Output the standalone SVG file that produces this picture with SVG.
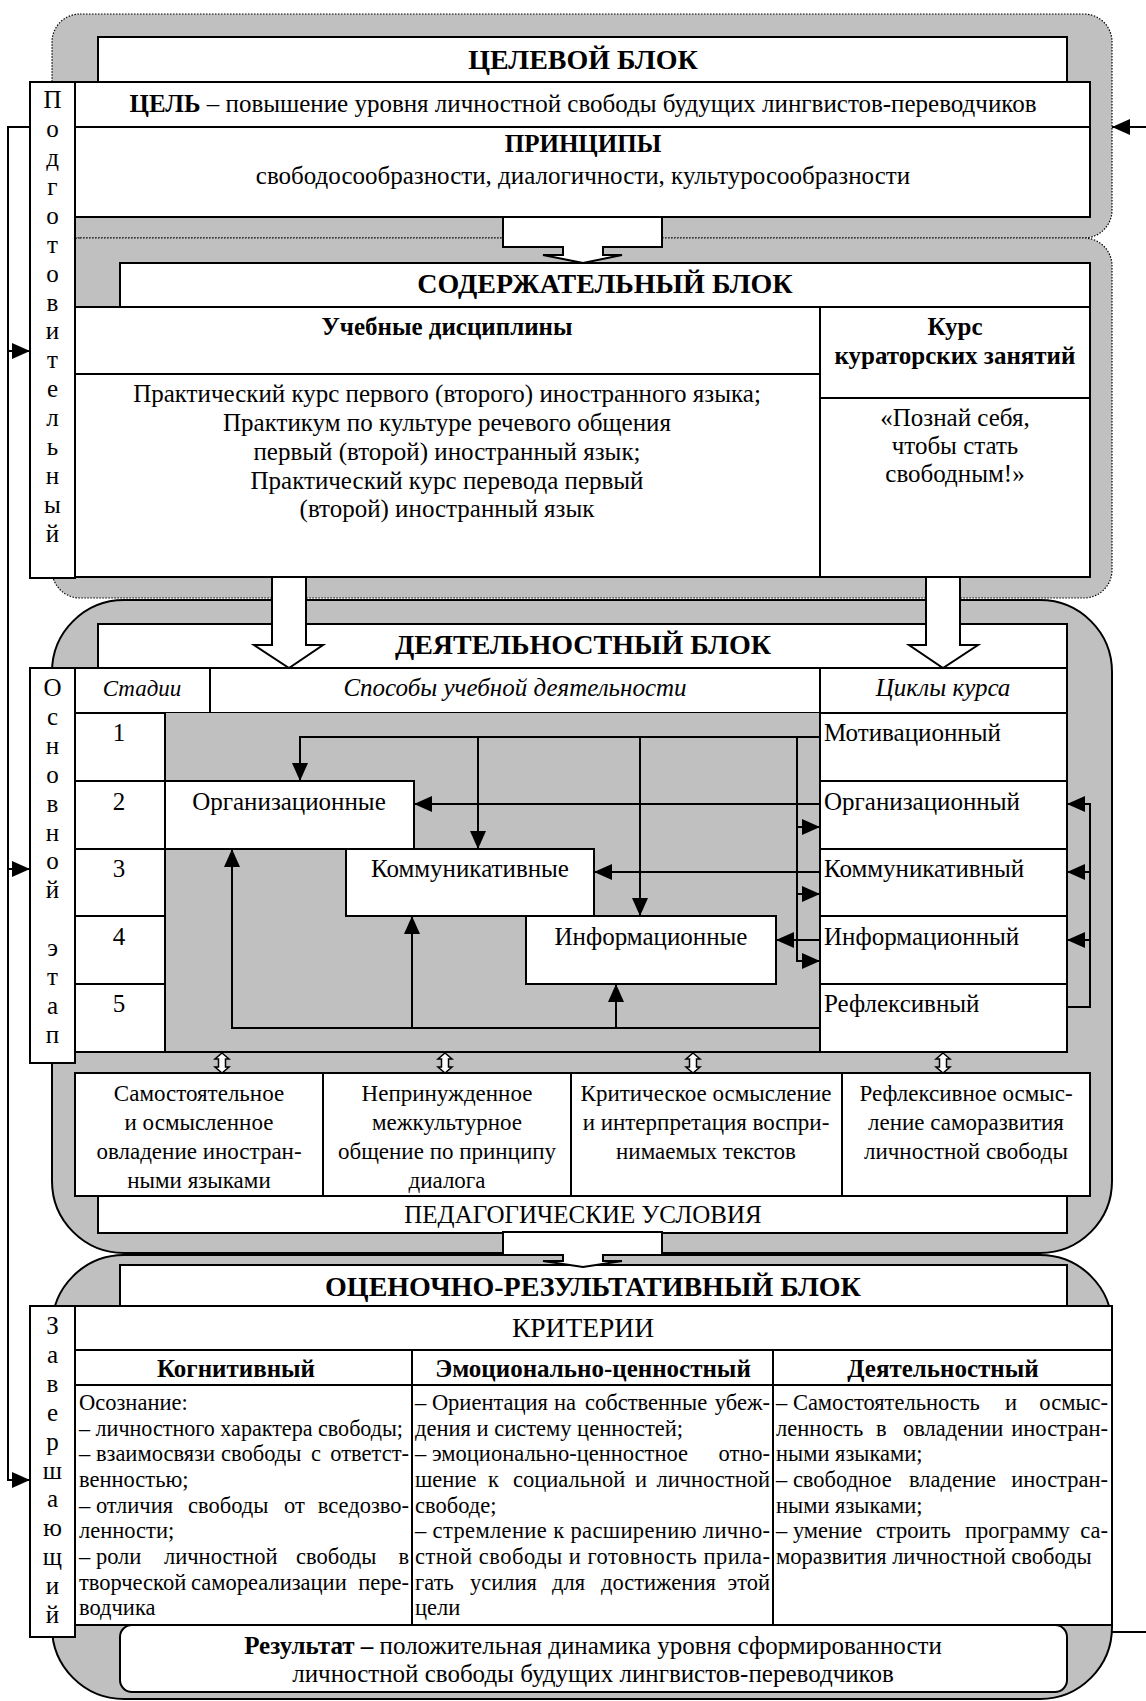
<svg xmlns="http://www.w3.org/2000/svg" width="1146" height="1701" viewBox="0 0 1146 1701">
<defs>
<style>
text{font-family:"Liberation Serif","Times New Roman",serif;fill:#000}
.ttl{font-size:28px;font-weight:bold;text-anchor:middle}
.m{font-size:25px}
.c{text-anchor:middle}
.b{font-weight:bold}
.i{font-style:italic}
.cond{font-size:23px;text-anchor:middle}
.stg{font-size:25px;text-anchor:middle}
.cr{font-size:22.5px}
.crh{font-size:25px;font-weight:bold;text-anchor:middle}
.e{text-anchor:end}
.box{fill:#fff;stroke:#000;stroke-width:2}
.gd{fill:#c0c0c0;stroke:#000;stroke-width:1.2;stroke-dasharray:1.5 1.5}
.gs{fill:#c0c0c0;stroke:#000;stroke-width:2}
.gi{fill:#c0c0c0;stroke:none}
.ln{fill:none;stroke:#000;stroke-width:2}
.wa{fill:#fff;stroke:#000;stroke-width:2;stroke-linejoin:miter}
.da{fill:#fff;stroke:#000;stroke-width:1.5}
</style>
<marker id="ah" viewBox="0 0 18 16" refX="18" refY="8" markerWidth="18" markerHeight="16" markerUnits="userSpaceOnUse" orient="auto"><path d="M0,0 L18,8 L0,16 z" fill="#000"/></marker>
</defs>
<rect width="1146" height="1701" fill="#fff"/>

<!-- backgrounds -->
<rect class="gd" x="52" y="14" width="1060" height="224" rx="28"/>
<rect class="gd" x="52" y="238" width="1060" height="360" rx="28"/>
<rect class="gs" x="52" y="600" width="1060" height="653" rx="72"/>
<rect class="gs" x="52" y="1255" width="1060" height="444" rx="72"/>

<!-- Block 1 -->
<g id="block-target">
<rect class="box" x="98" y="37" width="969" height="45"/>
<text class="ttl" x="583" y="69">ЦЕЛЕВОЙ БЛОК</text>
<rect class="box" x="75" y="82" width="1015" height="45"/>
<text class="m c" x="583" y="112"><tspan class="b">ЦЕЛЬ</tspan> – повышение уровня личностной свободы будущих лингвистов-переводчиков</text>
<rect class="box" x="75" y="127" width="1015" height="90"/>
<text class="m c b" x="583" y="152">ПРИНЦИПЫ</text>
<text class="m c" x="583" y="184">свободосообразности, диалогичности, культуросообразности</text>
</g>

<!-- Block 2 -->
<g id="block-content">
<rect class="box" x="120" y="263" width="970" height="44"/>
<text class="ttl" x="605" y="293">СОДЕРЖАТЕЛЬНЫЙ БЛОК</text>
<rect class="box" x="75" y="307" width="1015" height="270"/>
<line class="ln" x1="820" y1="307" x2="820" y2="577"/>
<line class="ln" x1="75" y1="374" x2="820" y2="374"/>
<line class="ln" x1="820" y1="398" x2="1090" y2="398"/>
<text class="m c b" x="447" y="335">Учебные дисциплины</text>
<text class="m c b" x="955" y="335">Курс</text>
<text class="m c b" x="955" y="364">кураторских занятий</text>
<text class="m c" x="447" y="402">Практический курс первого (второго) иностранного языка;</text>
<text class="m c" x="447" y="431">Практикум по культуре речевого общения</text>
<text class="m c" x="447" y="460">первый (второй) иностранный язык;</text>
<text class="m c" x="447" y="489">Практический курс перевода первый</text>
<text class="m c" x="447" y="517">(второй) иностранный язык</text>
<text class="m c" x="955" y="426">«Познай себя,</text>
<text class="m c" x="955" y="454">чтобы стать</text>
<text class="m c" x="955" y="482">свободным!»</text>
</g>

<g id="arrow-target-content">
<polygon class="wa" points="503,217 662,217 662,247 603,247 603,255 622,255 583,263 543,255 563,255 563,247 503,247"/>
</g>

<!-- Block 3 -->
<g id="block-activity">
<rect class="box" x="98" y="624" width="969" height="44"/>
<text class="ttl" x="583" y="654">ДЕЯТЕЛЬНОСТНЫЙ БЛОК</text>
<rect class="box" x="75" y="668" width="135" height="45"/>
<rect class="box" x="210" y="668" width="610" height="45"/>
<rect class="box" x="820" y="668" width="247" height="45"/>
<text class="c i" x="142" y="696" style="font-size:23px">Стадии</text>
<text class="m c i" x="515" y="696">Способы учебной деятельности</text>
<text class="m c i" x="943" y="696">Циклы курса</text>
<rect class="gi" x="165" y="713" width="655" height="339"/>
<rect class="box" x="75" y="713" width="90" height="68"/>
<rect class="box" x="75" y="781" width="90" height="68"/>
<rect class="box" x="75" y="849" width="90" height="67"/>
<rect class="box" x="75" y="916" width="90" height="68"/>
<rect class="box" x="75" y="984" width="90" height="68"/>
<line class="ln" x1="165" y1="1052" x2="820" y2="1052"/>
<text class="m c" x="119" y="741">1</text>
<text class="m c" x="119" y="810">2</text>
<text class="m c" x="119" y="877">3</text>
<text class="m c" x="119" y="945">4</text>
<text class="m c" x="119" y="1012">5</text>
</g>

<g id="cycle-motivation"><rect class="box" x="820" y="713" width="247" height="68"/><text class="m" x="824" y="741">Мотивационный</text></g>
<g id="cycle-organization"><rect class="box" x="820" y="781" width="247" height="68"/><text class="m" x="824" y="810">Организационный</text></g>
<g id="cycle-communication"><rect class="box" x="820" y="849" width="247" height="67"/><text class="m" x="824" y="877">Коммуникативный</text></g>
<g id="cycle-information"><rect class="box" x="820" y="916" width="247" height="68"/><text class="m" x="824" y="945">Информационный</text></g>
<g id="cycle-reflexive"><rect class="box" x="820" y="984" width="247" height="68"/><text class="m" x="824" y="1012">Рефлексивный</text></g>

<g id="way-organizational"><rect class="box" x="165" y="781" width="249" height="68"/><text class="m c" x="289" y="810">Организационные</text></g>
<g id="way-communicative"><rect class="box" x="346" y="849" width="248" height="67"/><text class="m c" x="470" y="877">Коммуникативные</text></g>
<g id="way-informational"><rect class="box" x="526" y="916" width="250" height="68"/><text class="m c" x="651" y="945">Информационные</text></g>

<g id="conditions">
<polygon class="da" points="222,1053 229,1059 225.5,1059 225.5,1067 229,1067 222,1073 215,1067 218.5,1067 218.5,1059 215,1059"/>
<polygon class="da" points="445,1053 452,1059 448.5,1059 448.5,1067 452,1067 445,1073 438,1067 441.5,1067 441.5,1059 438,1059"/>
<polygon class="da" points="693,1053 700,1059 696.5,1059 696.5,1067 700,1067 693,1073 686,1067 689.5,1067 689.5,1059 686,1059"/>
<polygon class="da" points="943,1053 950,1059 946.5,1059 946.5,1067 950,1067 943,1073 936,1067 939.5,1067 939.5,1059 936,1059"/>
<rect class="box" x="75" y="1073" width="248" height="123"/>
<rect class="box" x="323" y="1073" width="248" height="123"/>
<rect class="box" x="571" y="1073" width="271" height="123"/>
<rect class="box" x="842" y="1073" width="248" height="123"/>
<text class="cond" x="199" y="1101">Самостоятельное</text>
<text class="cond" x="199" y="1130">и осмысленное</text>
<text class="cond" x="199" y="1159">овладение иностран-</text>
<text class="cond" x="199" y="1188">ными языками</text>
<text class="cond" x="447" y="1101">Непринужденное</text>
<text class="cond" x="447" y="1130">межкультурное</text>
<text class="cond" x="447" y="1159">общение по принципу</text>
<text class="cond" x="447" y="1188">диалога</text>
<text class="cond" x="706" y="1101">Критическое осмысление</text>
<text class="cond" x="706" y="1130">и интерпретация воспри-</text>
<text class="cond" x="706" y="1159">нимаемых текстов</text>
<text class="cond" x="966" y="1101">Рефлексивное осмыс-</text>
<text class="cond" x="966" y="1130">ление саморазвития</text>
<text class="cond" x="966" y="1159">личностной свободы</text>
<rect class="box" x="98" y="1196" width="969" height="37"/>
<text class="m c" x="583" y="1223">ПЕДАГОГИЧЕСКИЕ УСЛОВИЯ</text>
</g>

<g id="arrows-content-activity">
<polygon class="wa" points="272,577 306,577 306,645 323,645 289,668 254,645 272,645"/>
<polygon class="wa" points="926,577 960,577 960,645 978,645 943,668 909,645 926,645"/>
</g>

<!-- Block 4 -->
<g id="block-evaluation">
<rect class="box" x="120" y="1265" width="947" height="41"/>
<text class="ttl" x="593" y="1296">ОЦЕНОЧНО-РЕЗУЛЬТАТИВНЫЙ БЛОК</text>
<rect class="box" x="75" y="1306" width="1037" height="319"/>
<line class="ln" x1="75" y1="1350" x2="1112" y2="1350"/>
<line class="ln" x1="75" y1="1385" x2="1112" y2="1385"/>
<line class="ln" x1="412" y1="1350" x2="412" y2="1625"/>
<line class="ln" x1="773" y1="1350" x2="773" y2="1625"/>
<text class="c" x="583" y="1337" style="font-size:27.5px">КРИТЕРИИ</text>
<text class="crh" x="236" y="1377">Когнитивный</text>
<text class="crh" x="593" y="1377">Эмоционально-ценностный</text>
<text class="crh" x="943" y="1377">Деятельностный</text>

<text class="cr" x="79" y="1410">Осознание:</text>
<text class="cr" x="79" y="1436" textLength="324" lengthAdjust="spacingAndGlyphs">– личностного характера свободы;</text>
<text class="cr" y="1461"><tspan x="79">– взаимосвязи</tspan><tspan x="221">свободы</tspan><tspan x="311">с</tspan></text>
<text class="cr e" x="409" y="1461">ответст-</text>
<text class="cr" x="79" y="1487">венностью;</text>
<text class="cr" y="1513"><tspan x="79">– отличия</tspan><tspan x="188">свободы</tspan><tspan x="284">от</tspan></text>
<text class="cr e" x="409" y="1513">вседозво-</text>
<text class="cr" x="79" y="1538">ленности;</text>
<text class="cr" y="1564"><tspan x="79">– роли</tspan><tspan x="164">личностной</tspan><tspan x="296">свободы</tspan></text>
<text class="cr e" x="409" y="1564">в</text>
<text class="cr" y="1590"><tspan x="79">творческой</tspan><tspan x="191">самореализации</tspan></text>
<text class="cr e" x="409" y="1590">пере-</text>
<text class="cr" x="79" y="1615">водчика</text>

<text class="cr" y="1410"><tspan x="415">– Ориентация</tspan><tspan x="554">на</tspan><tspan x="585">собственные</tspan></text>
<text class="cr e" x="770" y="1410">убеж-</text>
<text class="cr" x="415" y="1436">дения и систему ценностей;</text>
<text class="cr" x="415" y="1461">– эмоционально-ценностное</text>
<text class="cr e" x="770" y="1461">отно-</text>
<text class="cr" y="1487"><tspan x="415">шение</tspan><tspan x="488">к</tspan><tspan x="513">социальной</tspan><tspan x="635">и</tspan></text>
<text class="cr e" x="770" y="1487">личностной</text>
<text class="cr" x="415" y="1513">свободе;</text>
<text class="cr" x="415" y="1538" textLength="355" lengthAdjust="spacing">– стремление к расширению лично-</text>
<text class="cr" x="415" y="1564" textLength="355" lengthAdjust="spacing">стной свободы и готовность прила-</text>
<text class="cr" y="1590"><tspan x="415">гать</tspan><tspan x="470">усилия</tspan><tspan x="552">для</tspan><tspan x="601">достижения</tspan></text>
<text class="cr e" x="770" y="1590">этой</text>
<text class="cr" x="415" y="1615">цели</text>

<text class="cr" y="1410"><tspan x="776">– Самостоятельность</tspan><tspan x="1005">и</tspan></text>
<text class="cr e" x="1108" y="1410">осмыс-</text>
<text class="cr" y="1436"><tspan x="776">ленность</tspan><tspan x="876">в</tspan><tspan x="903">овладении</tspan></text>
<text class="cr e" x="1108" y="1436">иностран-</text>
<text class="cr" x="776" y="1461">ными языками;</text>
<text class="cr" x="776" y="1487">– свободное</text>
<text class="cr" x="909" y="1487">владение</text>
<text class="cr e" x="1108" y="1487">иностран-</text>
<text class="cr" x="776" y="1513">ными языками;</text>
<text class="cr" y="1538"><tspan x="776">– умение</tspan><tspan x="876">строить</tspan><tspan x="965">программу</tspan></text>
<text class="cr e" x="1108" y="1538">са-</text>
<text class="cr" x="776" y="1564">моразвития личностной свободы</text>
</g>

<g id="result">
<rect class="box" x="120" y="1625" width="947" height="67" rx="12"/>
<text class="m c" x="593" y="1654"><tspan class="b">Результат –</tspan> положительная динамика уровня сформированности</text>
<text class="m c" x="593" y="1682">личностной свободы будущих лингвистов-переводчиков</text>
</g>

<g id="arrow-activity-evaluation">
<polygon class="wa" points="503,1232 662,1232 662,1255 603,1255 603,1261 622,1261 583,1267 543,1261 563,1261 563,1255 503,1255"/>
</g>

<!-- connectors -->
<g id="connectors" class="ln">
<path class="ln" d="M820,737 H300 V781" marker-end="url(#ah)"/>
<path class="ln" d="M478,737 V849" marker-end="url(#ah)"/>
<path class="ln" d="M640,737 V916" marker-end="url(#ah)"/>
<path class="ln" d="M797,737 V961 H820" marker-end="url(#ah)"/>
<path class="ln" d="M797,827 H820" marker-end="url(#ah)"/>
<path class="ln" d="M797,894 H820" marker-end="url(#ah)"/>
<path class="ln" d="M820,804 H414" marker-end="url(#ah)"/>
<path class="ln" d="M820,872 H594" marker-end="url(#ah)"/>
<path class="ln" d="M820,940 H776" marker-end="url(#ah)"/>
<path class="ln" d="M820,1028 H232 V849" marker-end="url(#ah)"/>
<path class="ln" d="M412,1028 V916" marker-end="url(#ah)"/>
<path class="ln" d="M616,1028 V984" marker-end="url(#ah)"/>
<path class="ln" d="M1067,1007 H1090 V804 H1067" marker-end="url(#ah)"/>
<path class="ln" d="M1090,872 H1067" marker-end="url(#ah)"/>
<path class="ln" d="M1090,940 H1067" marker-end="url(#ah)"/>
<path class="ln" d="M30,127 H8 V1480 H30" marker-end="url(#ah)"/>
<path class="ln" d="M8,351 H30" marker-end="url(#ah)"/>
<path class="ln" d="M8,869 H30" marker-end="url(#ah)"/>
<path class="ln" d="M1146,127 H1112" marker-end="url(#ah)"/>
<path class="ln" d="M1112,1632 H1146"/>
</g>

<!-- stage boxes -->
<g id="stage-preparatory">
<rect class="box" x="30" y="82" width="45" height="496"/>
<text class="stg"><tspan x="52.5" y="108">П</tspan><tspan x="52.5" dy="28.93">о</tspan><tspan x="52.5" dy="28.93">д</tspan><tspan x="52.5" dy="28.93">г</tspan><tspan x="52.5" dy="28.93">о</tspan><tspan x="52.5" dy="28.93">т</tspan><tspan x="52.5" dy="28.93">о</tspan><tspan x="52.5" dy="28.93">в</tspan><tspan x="52.5" dy="28.93">и</tspan><tspan x="52.5" dy="28.93">т</tspan><tspan x="52.5" dy="28.93">е</tspan><tspan x="52.5" dy="28.93">л</tspan><tspan x="52.5" dy="28.93">ь</tspan><tspan x="52.5" dy="28.93">н</tspan><tspan x="52.5" dy="28.93">ы</tspan><tspan x="52.5" dy="28.93">й</tspan></text>
</g>
<g id="stage-main">
<rect class="box" x="30" y="668" width="45" height="395"/>
<text class="stg"><tspan x="52.5" y="696">О</tspan><tspan x="52.5" dy="28.9">с</tspan><tspan x="52.5" dy="28.9">н</tspan><tspan x="52.5" dy="28.9">о</tspan><tspan x="52.5" dy="28.9">в</tspan><tspan x="52.5" dy="28.9">н</tspan><tspan x="52.5" dy="28.9">о</tspan><tspan x="52.5" dy="28.9">й</tspan><tspan x="52.5" dy="57.8">э</tspan><tspan x="52.5" dy="28.9">т</tspan><tspan x="52.5" dy="28.9">а</tspan><tspan x="52.5" dy="28.9">п</tspan></text>
</g>
<g id="stage-final">
<rect class="box" x="30" y="1306" width="45" height="331"/>
<text class="stg"><tspan x="52.5" y="1334">З</tspan><tspan x="52.5" dy="28.9">а</tspan><tspan x="52.5" dy="28.9">в</tspan><tspan x="52.5" dy="28.9">е</tspan><tspan x="52.5" dy="28.9">р</tspan><tspan x="52.5" dy="28.9">ш</tspan><tspan x="52.5" dy="28.9">а</tspan><tspan x="52.5" dy="28.9">ю</tspan><tspan x="52.5" dy="28.9">щ</tspan><tspan x="52.5" dy="28.9">и</tspan><tspan x="52.5" dy="28.9">й</tspan></text>
</g>
</svg>
